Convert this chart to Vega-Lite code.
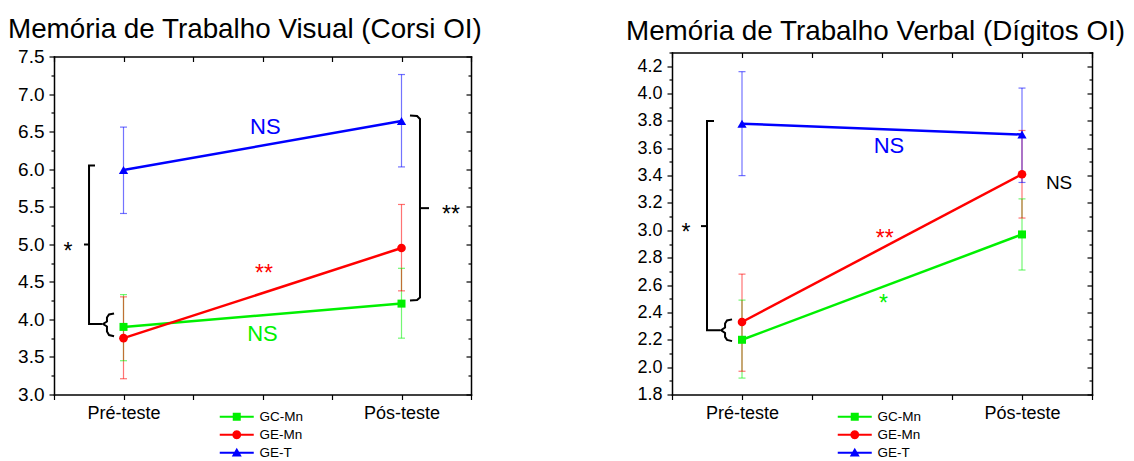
{
  "$schema": "https://vega.github.io/schema/vega-lite/v6.json",
  "background": "white",
  "padding": {"left": 8, "top": 15.5, "right": 2, "bottom": 0},
  "config": {
    "view": {"stroke": null},
    "font": "Liberation Sans"
  },
  "datasets": {
    "corsi": [
      {"grupo": "GC-Mn", "t": 1, "media": 3.90, "lo": 3.45, "hi": 4.33},
      {"grupo": "GC-Mn", "t": 3, "media": 4.21, "lo": 3.75, "hi": 4.68},
      {"grupo": "GE-Mn", "t": 1, "media": 3.75, "lo": 3.21, "hi": 4.30},
      {"grupo": "GE-Mn", "t": 3, "media": 4.95, "lo": 4.38, "hi": 5.53},
      {"grupo": "GE-T", "t": 1, "media": 5.99, "lo": 5.41, "hi": 6.56},
      {"grupo": "GE-T", "t": 3, "media": 6.64, "lo": 6.03, "hi": 7.26}
    ],
    "digitos": [
      {"grupo": "GC-Mn", "t": 1, "media": 2.20, "lo": 1.92, "hi": 2.49},
      {"grupo": "GC-Mn", "t": 3, "media": 2.97, "lo": 2.71, "hi": 3.23},
      {"grupo": "GE-Mn", "t": 1, "media": 2.33, "lo": 1.97, "hi": 2.68},
      {"grupo": "GE-Mn", "t": 3, "media": 3.41, "lo": 3.09, "hi": 3.73},
      {"grupo": "GE-T", "t": 1, "media": 3.78, "lo": 3.40, "hi": 4.16},
      {"grupo": "GE-T", "t": 3, "media": 3.70, "lo": 3.35, "hi": 4.04}
    ],
    "corsi_sig": [
      {"rotulo": "NS", "t": 2.02, "v": 6.56, "grupo": "GE-T"},
      {"rotulo": "**", "t": 2.01, "v": 4.69, "grupo": "GE-Mn"},
      {"rotulo": "NS", "t": 2.0, "v": 3.81, "grupo": "GC-Mn"},
      {"rotulo": "*", "t": 0.6, "v": 4.98, "grupo": "entre"},
      {"rotulo": "**", "t": 3.356, "v": 5.47, "grupo": "entre"}
    ],
    "digitos_sig": [
      {"rotulo": "NS", "t": 2.05, "v": 3.62, "grupo": "GE-T"},
      {"rotulo": "**", "t": 2.02, "v": 2.985, "grupo": "GE-Mn"},
      {"rotulo": "*", "t": 2.01, "v": 2.51, "grupo": "GC-Mn"},
      {"rotulo": "*", "t": 0.6, "v": 3.03, "grupo": "entre"},
      {"rotulo": "NS", "t": 3.265, "v": 3.345, "grupo": "entre"}
    ],
    "corsi_chaves": [
      {"traco": "A", "i": 0, "t": 0.795, "v": 6.049},
      {"traco": "A", "i": 1, "t": 0.752, "v": 6.049},
      {"traco": "A", "i": 2, "t": 0.752, "v": 3.939},
      {"traco": "A", "i": 3, "t": 0.845, "v": 3.939},
      {"traco": "B", "i": 0, "t": 0.716, "v": 4.997},
      {"traco": "B", "i": 1, "t": 0.752, "v": 4.997},
      {"traco": "C", "i": 0, "t": 0.932, "v": 4.079},
      {"traco": "C", "i": 1, "t": 0.896, "v": 4.065},
      {"traco": "C", "i": 2, "t": 0.881, "v": 4.025},
      {"traco": "C", "i": 3, "t": 0.881, "v": 3.972},
      {"traco": "C", "i": 4, "t": 0.853, "v": 3.939},
      {"traco": "C", "i": 5, "t": 0.881, "v": 3.905},
      {"traco": "C", "i": 6, "t": 0.881, "v": 3.839},
      {"traco": "C", "i": 7, "t": 0.896, "v": 3.792},
      {"traco": "C", "i": 8, "t": 0.932, "v": 3.776},
      {"traco": "D", "i": 0, "t": 3.061, "v": 6.715},
      {"traco": "D", "i": 1, "t": 3.112, "v": 6.708},
      {"traco": "D", "i": 2, "t": 3.133, "v": 6.668},
      {"traco": "D", "i": 3, "t": 3.133, "v": 4.292},
      {"traco": "D", "i": 4, "t": 3.112, "v": 4.258},
      {"traco": "D", "i": 5, "t": 3.061, "v": 4.252},
      {"traco": "E", "i": 0, "t": 3.133, "v": 5.481},
      {"traco": "E", "i": 1, "t": 3.198, "v": 5.481}
    ],
    "digitos_chaves": [
      {"traco": "F", "i": 0, "t": 0.8, "v": 3.799},
      {"traco": "F", "i": 1, "t": 0.75, "v": 3.799},
      {"traco": "F", "i": 2, "t": 0.75, "v": 2.270},
      {"traco": "F", "i": 3, "t": 0.843, "v": 2.270},
      {"traco": "G", "i": 0, "t": 0.707, "v": 3.031},
      {"traco": "G", "i": 1, "t": 0.75, "v": 3.031},
      {"traco": "H", "i": 0, "t": 0.929, "v": 2.349},
      {"traco": "H", "i": 1, "t": 0.893, "v": 2.341},
      {"traco": "H", "i": 2, "t": 0.879, "v": 2.319},
      {"traco": "H", "i": 3, "t": 0.879, "v": 2.290},
      {"traco": "H", "i": 4, "t": 0.85, "v": 2.270},
      {"traco": "H", "i": 5, "t": 0.879, "v": 2.250},
      {"traco": "H", "i": 6, "t": 0.879, "v": 2.221},
      {"traco": "H", "i": 7, "t": 0.893, "v": 2.199},
      {"traco": "H", "i": 8, "t": 0.929, "v": 2.190}
    ]
  },
  "hconcat": [
    {
      "width": 417,
      "height": 342,
      "title": {"text": "Memória de Trabalho Visual (Corsi OI)", "anchor": "start", "frame": "group", "dx": -46, "offset": 4, "font": "Liberation Sans", "fontSize": 27.8, "fontWeight": "normal", "color": "black"},
      "resolve": {"axis": {"x": "independent", "y": "independent"}, "scale": {"shape": "independent", "fill": "independent"}},
      "layer": [
        {
          "data": {"name": "corsi"},
          "mark": {"type": "rule", "strokeWidth": 1.2, "opacity": 0.55},
          "encoding": {
            "x": {"field": "t", "type": "quantitative", "scale": {"domain": [0.5, 3.5], "nice": false, "zero": false},
              "axis": {"orient": "bottom", "values": [0.5, 1, 1.5, 2, 2.5, 3, 3.5], "labelExpr": "datum.value == 1 ? 'Pré-teste' : datum.value == 3 ? 'Pós-teste' : ''", "title": null, "grid": false, "domain": true, "domainColor": "black", "domainWidth": 1.5, "domainCap": "square", "tickColor": "black", "tickSize": 5, "tickWidth": 1.2, "labelFont": "Liberation Sans", "labelFontSize": 18, "labelColor": "black", "labelPadding": 5, "labelFlush": false, "labelOverlap": false}},
            "y": {"field": "lo", "type": "quantitative", "scale": {"domain": [3, 7.5], "range": [342, 4], "nice": false, "zero": false},
              "axis": {"orient": "left", "values": [3, 3.25, 3.5, 3.75, 4, 4.25, 4.5, 4.75, 5, 5.25, 5.5, 5.75, 6, 6.25, 6.5, 6.75, 7, 7.25, 7.5], "labelExpr": "datum.value % 0.5 == 0 ? format(datum.value, '.1f') : ''", "title": null, "grid": false, "domain": true, "domainColor": "black", "domainWidth": 1.5, "domainCap": "square", "tickColor": "black", "tickWidth": 1.2, "tickSize": {"condition": {"test": "datum.value % 0.5 != 0", "value": 3}, "value": 5}, "labelFont": "Liberation Sans", "labelFontSize": 19, "labelColor": "black", "labelPadding": 5, "labelOverlap": false, "labelFlush": false}},
            "y2": {"field": "hi"},
            "color": {"field": "grupo", "type": "nominal", "scale": {"domain": ["GC-Mn", "GE-Mn", "GE-T"], "range": ["#00f000", "#ff0000", "#0000ff"]}, "legend": null}
          }
        },
        {
          "data": {"name": "corsi"},
          "mark": {"type": "tick", "orient": "horizontal", "size": 7, "thickness": 1.2, "opacity": 0.55},
          "encoding": {
            "x": {"field": "t", "type": "quantitative", "axis": null},
            "y": {"field": "lo", "type": "quantitative", "axis": null},
            "color": {"field": "grupo", "type": "nominal", "legend": null}
          }
        },
        {
          "data": {"name": "corsi"},
          "mark": {"type": "tick", "orient": "horizontal", "size": 7, "thickness": 1.2, "opacity": 0.55},
          "encoding": {
            "x": {"field": "t", "type": "quantitative", "axis": null},
            "y": {"field": "hi", "type": "quantitative", "axis": null},
            "color": {"field": "grupo", "type": "nominal", "legend": null}
          }
        },
        {
          "data": {"name": "corsi"},
          "mark": {"type": "line", "strokeWidth": 2.5},
          "encoding": {
            "x": {"field": "t", "type": "quantitative",
              "axis": {"orient": "top", "offset": -4, "values": [0.5, 1, 1.5, 2, 2.5, 3, 3.5], "labels": false, "title": null, "grid": false, "domain": true, "domainColor": "black", "domainWidth": 1.5, "domainCap": "square", "tickColor": "black", "tickWidth": 1.2, "tickSize": -5}},
            "y": {"field": "media", "type": "quantitative",
              "axis": {"orient": "right", "values": [3, 3.25, 3.5, 3.75, 4, 4.25, 4.5, 4.75, 5, 5.25, 5.5, 5.75, 6, 6.25, 6.5, 6.75, 7, 7.25, 7.5], "labels": false, "title": null, "grid": false, "domain": true, "domainColor": "black", "domainWidth": 1.5, "domainCap": "square", "tickColor": "black", "tickWidth": 1.2, "tickSize": {"condition": {"test": "datum.value % 0.5 != 0", "value": -3}, "value": -5}}},
            "color": {"field": "grupo", "type": "nominal", "legend": null}
          }
        },
        {
          "data": {"name": "corsi"},
          "mark": {"type": "point", "filled": true, "opacity": 1},
          "encoding": {
            "x": {"field": "t", "type": "quantitative", "axis": null},
            "y": {"field": "media", "type": "quantitative", "axis": null},
            "color": {"field": "grupo", "type": "nominal", "legend": null},
            "shape": {"field": "grupo", "type": "nominal", "scale": {"domain": ["GC-Mn", "GE-Mn", "GE-T"], "range": ["square", "circle", "triangle-up"]}, "legend": null},
            "size": {"field": "grupo", "type": "ordinal", "scale": {"domain": ["GC-Mn", "GE-Mn", "GE-T"], "range": [64, 85, 110]}, "legend": null}
          }
        },
        {
          "data": {"name": "corsi"},
          "mark": {"type": "point", "filled": true, "opacity": 0},
          "encoding": {
            "x": {"field": "t", "type": "quantitative", "axis": null},
            "y": {"field": "media", "type": "quantitative", "axis": null},
            "fill": {"field": "grupo", "type": "nominal", "scale": {"domain": ["GC-Mn", "GE-Mn", "GE-T"], "range": ["#00f000", "#ff0000", "#0000ff"]},
              "legend": {"orient": "none", "legendX": 176, "legendY": 357.5, "direction": "vertical", "title": null, "padding": 0, "labelFont": "Liberation Sans", "labelFontSize": 13.5, "labelColor": "black", "labelOffset": 16, "rowPadding": 3, "symbolOpacity": 1, "symbolStrokeWidth": 0, "symbolStrokeColor": "transparent", "symbolSize": 100}},
            "shape": {"field": "grupo", "type": "nominal", "scale": {"domain": ["GC-Mn", "GE-Mn", "GE-T"], "range": [
                "M-3.4,-0.2H3.4V0.2H-3.4ZM-0.8,-0.8H0.8V0.8H-0.8Z",
                "M-3.4,-0.2H3.4V0.2H-3.4ZM0.9,0L0.78,0.45L0.45,0.78L0,0.9L-0.45,0.78L-0.78,0.45L-0.9,0L-0.78,-0.45L-0.45,-0.78L0,-0.9L0.45,-0.78L0.78,-0.45Z",
                "M-3.4,-0.2H3.4V0.2H-3.4ZM0,-1L1,0.75H-1Z"]},
              "legend": {"orient": "none", "legendX": 176, "legendY": 357.5, "direction": "vertical", "title": null, "padding": 0, "labelFont": "Liberation Sans", "labelFontSize": 13.5, "labelColor": "black", "labelOffset": 16, "rowPadding": 3, "symbolOpacity": 1, "symbolStrokeWidth": 0, "symbolStrokeColor": "transparent", "symbolSize": 100}}
          }
        },
        {
          "data": {"name": "corsi_chaves"},
          "mark": {"type": "line", "color": "black", "strokeWidth": 2},
          "encoding": {
            "x": {"field": "t", "type": "quantitative", "axis": null},
            "y": {"field": "v", "type": "quantitative", "axis": null},
            "detail": {"field": "traco"},
            "order": {"field": "i", "type": "quantitative"}
          }
        },
        {
          "data": {"name": "corsi_sig"},
          "transform": [{"filter": "datum.rotulo == 'NS'"}],
          "mark": {"type": "text", "baseline": "middle", "align": "center", "font": "Liberation Sans"},
          "encoding": {
            "x": {"field": "t", "type": "quantitative", "axis": null},
            "y": {"field": "v", "type": "quantitative", "axis": null},
            "text": {"field": "rotulo"},
            "size": {"condition": {"test": "datum.grupo == 'entre'", "value": 19}, "value": 22},
            "fill": {"field": "grupo", "type": "nominal", "scale": {"domain": ["GC-Mn", "GE-Mn", "GE-T", "entre"], "range": ["#00f000", "#ff0000", "#0000ff", "black"]}, "legend": null}
          }
        },
        {
          "data": {"name": "corsi_sig"},
          "transform": [{"filter": "datum.rotulo != 'NS'"}],
          "mark": {"type": "text", "baseline": "middle", "align": "center", "dy": 6.5, "fontSize": 23, "font": "Liberation Sans"},
          "encoding": {
            "x": {"field": "t", "type": "quantitative", "axis": null},
            "y": {"field": "v", "type": "quantitative", "axis": null},
            "text": {"field": "rotulo"},
            "fill": {"field": "grupo", "type": "nominal", "scale": {"domain": ["GC-Mn", "GE-Mn", "GE-T", "entre"], "range": ["#00f000", "#ff0000", "#0000ff", "black"]}, "legend": null}
          }
        }
      ]
    },
    {
      "width": 420,
      "height": 342,
      "title": {"text": "Memória de Trabalho Verbal (Dígitos OI)", "anchor": "start", "frame": "group", "dx": -46, "dy": 3, "offset": 1, "font": "Liberation Sans", "fontSize": 27.8, "fontWeight": "normal", "color": "black"},
      "resolve": {"axis": {"x": "independent", "y": "independent"}, "scale": {"shape": "independent", "fill": "independent"}},
      "layer": [
        {
          "data": {"name": "digitos"},
          "mark": {"type": "rule", "strokeWidth": 1.2, "opacity": 0.55},
          "encoding": {
            "x": {"field": "t", "type": "quantitative", "scale": {"domain": [0.5, 3.5], "nice": false, "zero": false},
              "axis": {"orient": "bottom", "values": [0.5, 1, 1.5, 2, 2.5, 3, 3.5], "labelExpr": "datum.value == 1 ? 'Pré-teste' : datum.value == 3 ? 'Pós-teste' : ''", "title": null, "grid": false, "domain": true, "domainColor": "black", "domainWidth": 1.5, "domainCap": "square", "tickColor": "black", "tickSize": 5, "tickWidth": 1.2, "labelFont": "Liberation Sans", "labelFontSize": 18, "labelColor": "black", "labelPadding": 5, "labelFlush": false, "labelOverlap": false}},
            "y": {"field": "lo", "type": "quantitative", "scale": {"domain": [1.8, 4.3], "nice": false, "zero": false},
              "axis": {"orient": "left", "values": [1.8, 1.9, 2.0, 2.1, 2.2, 2.3, 2.4, 2.5, 2.6, 2.7, 2.8, 2.9, 3.0, 3.1, 3.2, 3.3, 3.4, 3.5, 3.6, 3.7, 3.8, 3.9, 4.0, 4.1, 4.2, 4.3], "labelExpr": "round(datum.value * 10) % 2 == 0 && datum.value < 4.25 ? format(datum.value, '.1f') : ''", "title": null, "grid": false, "domain": true, "domainColor": "black", "domainWidth": 1.5, "domainCap": "square", "tickColor": "black", "tickWidth": 1.2, "tickSize": {"condition": {"test": "round(datum.value * 10) % 2 != 0", "value": 3}, "value": 5}, "labelFont": "Liberation Sans", "labelFontSize": 18, "labelColor": "black", "labelPadding": 5, "labelOverlap": false, "labelFlush": false}},
            "y2": {"field": "hi"},
            "color": {"field": "grupo", "type": "nominal", "scale": {"domain": ["GC-Mn", "GE-Mn", "GE-T"], "range": ["#00f000", "#ff0000", "#0000ff"]}, "legend": null}
          }
        },
        {
          "data": {"name": "digitos"},
          "mark": {"type": "tick", "orient": "horizontal", "size": 7, "thickness": 1.2, "opacity": 0.55},
          "encoding": {
            "x": {"field": "t", "type": "quantitative", "axis": null},
            "y": {"field": "lo", "type": "quantitative", "axis": null},
            "color": {"field": "grupo", "type": "nominal", "legend": null}
          }
        },
        {
          "data": {"name": "digitos"},
          "mark": {"type": "tick", "orient": "horizontal", "size": 7, "thickness": 1.2, "opacity": 0.55},
          "encoding": {
            "x": {"field": "t", "type": "quantitative", "axis": null},
            "y": {"field": "hi", "type": "quantitative", "axis": null},
            "color": {"field": "grupo", "type": "nominal", "legend": null}
          }
        },
        {
          "data": {"name": "digitos"},
          "mark": {"type": "line", "strokeWidth": 2.5},
          "encoding": {
            "x": {"field": "t", "type": "quantitative",
              "axis": {"orient": "top", "values": [0.5, 1, 1.5, 2, 2.5, 3, 3.5], "labels": false, "title": null, "grid": false, "domain": true, "domainColor": "black", "domainWidth": 1.5, "domainCap": "square", "tickColor": "black", "tickWidth": 1.2, "tickSize": -5}},
            "y": {"field": "media", "type": "quantitative",
              "axis": {"orient": "right", "values": [1.8, 1.9, 2.0, 2.1, 2.2, 2.3, 2.4, 2.5, 2.6, 2.7, 2.8, 2.9, 3.0, 3.1, 3.2, 3.3, 3.4, 3.5, 3.6, 3.7, 3.8, 3.9, 4.0, 4.1, 4.2, 4.3], "labels": false, "title": null, "grid": false, "domain": true, "domainColor": "black", "domainWidth": 1.5, "domainCap": "square", "tickColor": "black", "tickWidth": 1.2, "tickSize": {"condition": {"test": "round(datum.value * 10) % 2 != 0", "value": -3}, "value": -5}}},
            "color": {"field": "grupo", "type": "nominal", "legend": null}
          }
        },
        {
          "data": {"name": "digitos"},
          "mark": {"type": "point", "filled": true, "opacity": 1},
          "encoding": {
            "x": {"field": "t", "type": "quantitative", "axis": null},
            "y": {"field": "media", "type": "quantitative", "axis": null},
            "color": {"field": "grupo", "type": "nominal", "legend": null},
            "shape": {"field": "grupo", "type": "nominal", "scale": {"domain": ["GC-Mn", "GE-Mn", "GE-T"], "range": ["square", "circle", "triangle-up"]}, "legend": null},
            "size": {"field": "grupo", "type": "ordinal", "scale": {"domain": ["GC-Mn", "GE-Mn", "GE-T"], "range": [64, 85, 110]}, "legend": null}
          }
        },
        {
          "data": {"name": "digitos"},
          "mark": {"type": "point", "filled": true, "opacity": 0},
          "encoding": {
            "x": {"field": "t", "type": "quantitative", "axis": null},
            "y": {"field": "media", "type": "quantitative", "axis": null},
            "fill": {"field": "grupo", "type": "nominal", "scale": {"domain": ["GC-Mn", "GE-Mn", "GE-T"], "range": ["#00f000", "#ff0000", "#0000ff"]},
              "legend": {"orient": "none", "legendX": 176, "legendY": 357.5, "direction": "vertical", "title": null, "padding": 0, "labelFont": "Liberation Sans", "labelFontSize": 13.5, "labelColor": "black", "labelOffset": 16, "rowPadding": 3, "symbolOpacity": 1, "symbolStrokeWidth": 0, "symbolStrokeColor": "transparent", "symbolSize": 100}},
            "shape": {"field": "grupo", "type": "nominal", "scale": {"domain": ["GC-Mn", "GE-Mn", "GE-T"], "range": [
                "M-3.4,-0.2H3.4V0.2H-3.4ZM-0.8,-0.8H0.8V0.8H-0.8Z",
                "M-3.4,-0.2H3.4V0.2H-3.4ZM0.9,0L0.78,0.45L0.45,0.78L0,0.9L-0.45,0.78L-0.78,0.45L-0.9,0L-0.78,-0.45L-0.45,-0.78L0,-0.9L0.45,-0.78L0.78,-0.45Z",
                "M-3.4,-0.2H3.4V0.2H-3.4ZM0,-1L1,0.75H-1Z"]},
              "legend": {"orient": "none", "legendX": 176, "legendY": 357.5, "direction": "vertical", "title": null, "padding": 0, "labelFont": "Liberation Sans", "labelFontSize": 13.5, "labelColor": "black", "labelOffset": 16, "rowPadding": 3, "symbolOpacity": 1, "symbolStrokeWidth": 0, "symbolStrokeColor": "transparent", "symbolSize": 100}}
          }
        },
        {
          "data": {"name": "digitos_chaves"},
          "mark": {"type": "line", "color": "black", "strokeWidth": 2},
          "encoding": {
            "x": {"field": "t", "type": "quantitative", "axis": null},
            "y": {"field": "v", "type": "quantitative", "axis": null},
            "detail": {"field": "traco"},
            "order": {"field": "i", "type": "quantitative"}
          }
        },
        {
          "data": {"name": "digitos_sig"},
          "transform": [{"filter": "datum.rotulo == 'NS'"}],
          "mark": {"type": "text", "baseline": "middle", "align": "center", "font": "Liberation Sans"},
          "encoding": {
            "x": {"field": "t", "type": "quantitative", "axis": null},
            "y": {"field": "v", "type": "quantitative", "axis": null},
            "text": {"field": "rotulo"},
            "size": {"condition": {"test": "datum.grupo == 'entre'", "value": 19}, "value": 22},
            "fill": {"field": "grupo", "type": "nominal", "scale": {"domain": ["GC-Mn", "GE-Mn", "GE-T", "entre"], "range": ["#00f000", "#ff0000", "#0000ff", "black"]}, "legend": null}
          }
        },
        {
          "data": {"name": "digitos_sig"},
          "transform": [{"filter": "datum.rotulo != 'NS'"}],
          "mark": {"type": "text", "baseline": "middle", "align": "center", "dy": 6.5, "fontSize": 23, "font": "Liberation Sans"},
          "encoding": {
            "x": {"field": "t", "type": "quantitative", "axis": null},
            "y": {"field": "v", "type": "quantitative", "axis": null},
            "text": {"field": "rotulo"},
            "fill": {"field": "grupo", "type": "nominal", "scale": {"domain": ["GC-Mn", "GE-Mn", "GE-T", "entre"], "range": ["#00f000", "#ff0000", "#0000ff", "black"]}, "legend": null}
          }
        }
      ]
    }
  ],
  "spacing": 143,
  "resolve": {"scale": {"x": "independent", "y": "independent", "color": "independent", "fill": "independent", "stroke": "independent", "shape": "independent", "size": "independent"}}
}
